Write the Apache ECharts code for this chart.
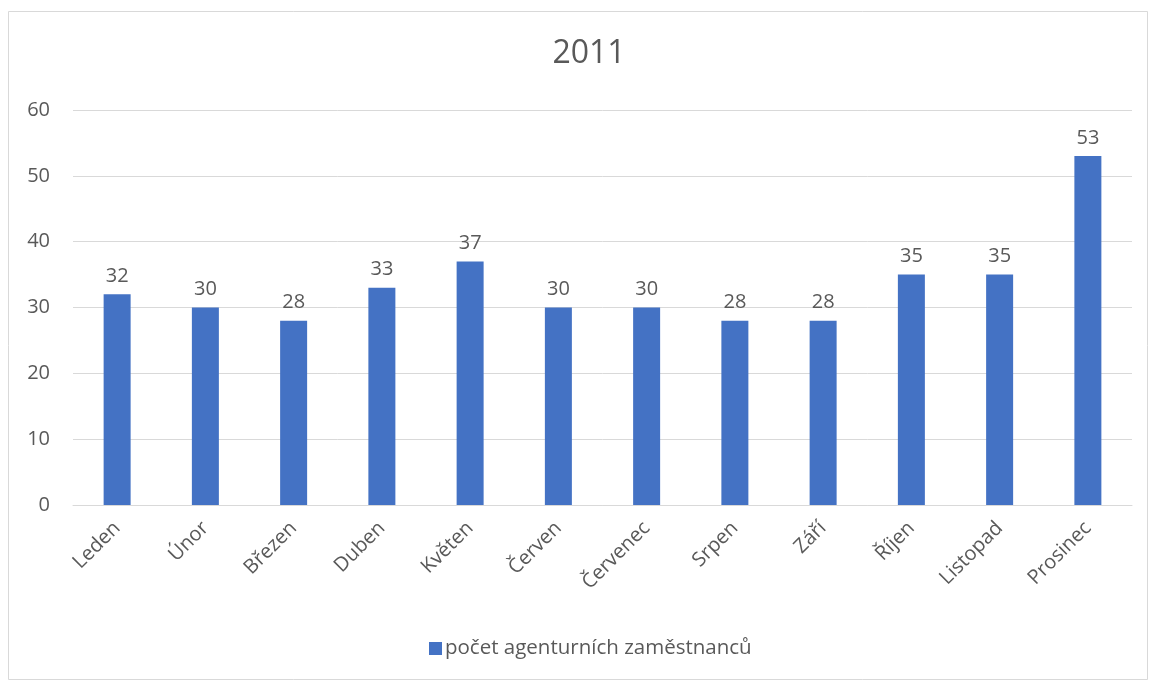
<!DOCTYPE html>
<html>
<head>
<meta charset="utf-8">
<script src="https://cdn.jsdelivr.net/npm/echarts@6/dist/echarts.min.js"></script>
<style>
  html, body { margin: 0; padding: 0; background: #fff; }
  #chart { width: 1149px; height: 682px; }
</style>
</head>
<body>
<div id="chart"></div>
<script>
// Monthly agency staff headcount, 2011
const months = ['Leden', 'Únor', 'Březen', 'Duben', 'Květen', 'Červen', 'Červenec', 'Srpen', 'Září', 'Říjen', 'Listopad', 'Prosinec'];
const staff = [32, 30, 28, 33, 37, 30, 30, 28, 28, 35, 35, 53];
const seriesName = 'počet agenturních zaměstnanců';
const chartTitle = '2011';

const FONT = '"Open Sans", sans-serif';
const TEXT = '#595959';
const GRID = '#d9d9d9';
const BAR = '#4472c4';

const chart = echarts.init(document.getElementById('chart'), null, { renderer: 'canvas' });
chart.setOption({
  backgroundColor: '#fff',
  animation: false,
  graphic: [{
    type: 'rect',
    shape: { x: 8.5, y: 11.5, width: 1139, height: 668 },
    style: { fill: 'none', stroke: GRID, lineWidth: 1 },
    silent: true
  }],
  title: {
    text: chartTitle,
    left: 584,
    top: 33,
    textAlign: 'center',
    textStyle: { fontFamily: FONT, fontSize: 32, fontWeight: 'normal', color: TEXT }
  },
  legend: {
    data: [seriesName],
    left: 424,
    top: 633,
    icon: 'rect',
    itemWidth: 13,
    itemHeight: 13,
    itemGap: 10,
    textStyle: { fontFamily: FONT, fontSize: 20.5, color: TEXT, padding: [0, 0, 0, -2] }
  },
  grid: { left: 73, right: 17, top: 110, bottom: 177, containLabel: false },
  xAxis: {
    type: 'category',
    data: months,
    axisLine: { show: true, lineStyle: { color: GRID, width: 1 } },
    axisTick: { show: false },
    axisLabel: {
      rotate: 45,
      margin: 20,
      interval: 0,
      fontFamily: FONT,
      fontSize: 20,
      color: TEXT
    }
  },
  yAxis: {
    type: 'value',
    min: 0,
    max: 60,
    interval: 10,
    axisLine: { show: false },
    axisTick: { show: false },
    splitLine: { lineStyle: { color: GRID, width: 1 } },
    axisLabel: { fontFamily: FONT, fontSize: 20, color: TEXT, margin: 23 }
  },
  series: [{
    name: seriesName,
    type: 'bar',
    data: staff,
    barWidth: 27,
    itemStyle: { color: BAR },
    label: {
      show: true,
      position: 'top',
      distance: 8,
      fontFamily: FONT,
      fontSize: 20,
      color: TEXT
    }
  }]
});
</script>
</body>
</html>
